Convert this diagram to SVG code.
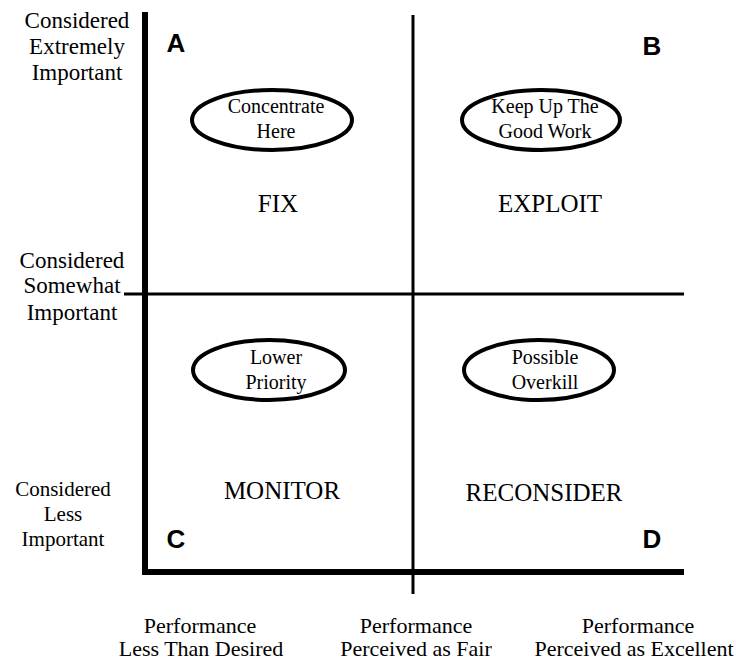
<svg xmlns="http://www.w3.org/2000/svg" width="736" height="663" viewBox="0 0 736 663">
  <style>
    .lbl { font-family: "Liberation Serif", "Times New Roman", serif; font-size: 23px; fill: #000; text-anchor: middle; }
    .lbl-s { font-family: "Liberation Serif", "Times New Roman", serif; font-size: 21px; fill: #000; text-anchor: middle; }
    .axis-lbl { font-family: "Liberation Serif", "Times New Roman", serif; font-size: 22px; fill: #000; text-anchor: middle; }
    .cap { font-family: "Liberation Serif", "Times New Roman", serif; font-size: 25px; fill: #000; text-anchor: middle; }
    .oval-text { font-family: "Liberation Serif", "Times New Roman", serif; font-size: 20px; fill: #000; text-anchor: middle; }
    .quad { font-family: "Liberation Sans", Arial, sans-serif; font-size: 26px; font-weight: bold; fill: #000; text-anchor: middle; }
    .oval { fill: #fff; stroke: #000; stroke-width: 4; }
    .axis { stroke: #000; stroke-width: 6; fill: none; }
    .divider { stroke: #000; stroke-width: 3; fill: none; }
  </style>
  <rect width="736" height="663" fill="#fff"/>

  <!-- axes and quadrant dividers -->
  <g id="connectors">
    <line class="divider" x1="413" y1="15" x2="413" y2="594"/>
    <line class="divider" x1="124" y1="294" x2="684" y2="294"/>
    <polyline class="axis" points="145,12 145,572 684,572"/>
  </g>

  <!-- importance scale -->
  <g id="importance-high">
    <text class="lbl" x="77" y="28">Considered</text>
    <text class="lbl" x="77" y="54">Extremely</text>
    <text class="lbl" x="77" y="80">Important</text>
  </g>
  <g id="importance-mid">
    <text class="lbl" x="72" y="268">Considered</text>
    <text class="lbl" x="72" y="293">Somewhat</text>
    <text class="lbl" x="72" y="320">Important</text>
  </g>
  <g id="importance-low">
    <text class="lbl-s" x="63" y="496">Considered</text>
    <text class="lbl-s" x="63" y="521">Less</text>
    <text class="lbl-s" x="63" y="546">Important</text>
  </g>

  <!-- quadrant letters -->
  <g id="quad-a"><text class="quad" x="176" y="52">A</text></g>
  <g id="quad-b"><text class="quad" x="652" y="55">B</text></g>
  <g id="quad-c"><text class="quad" x="176" y="548">C</text></g>
  <g id="quad-d"><text class="quad" x="652" y="548">D</text></g>

  <!-- quadrant ovals -->
  <g id="oval-concentrate">
    <ellipse class="oval" cx="272" cy="120" rx="80" ry="30"/>
    <text class="oval-text" x="276" y="113">Concentrate</text>
    <text class="oval-text" x="276" y="138">Here</text>
  </g>
  <g id="oval-keep-up">
    <ellipse class="oval" cx="541" cy="120" rx="79" ry="30"/>
    <text class="oval-text" x="545" y="113">Keep Up The</text>
    <text class="oval-text" x="545" y="138">Good Work</text>
  </g>
  <g id="oval-lower">
    <ellipse class="oval" cx="269" cy="370" rx="76" ry="30"/>
    <text class="oval-text" x="276" y="364">Lower</text>
    <text class="oval-text" x="276" y="389">Priority</text>
  </g>
  <g id="oval-overkill">
    <ellipse class="oval" cx="539" cy="370" rx="75" ry="30"/>
    <text class="oval-text" x="545" y="364">Possible</text>
    <text class="oval-text" x="545" y="389">Overkill</text>
  </g>

  <!-- quadrant actions -->
  <g id="action-fix"><text class="cap" x="278" y="212">FIX</text></g>
  <g id="action-exploit"><text class="cap" x="550" y="212">EXPLOIT</text></g>
  <g id="action-monitor"><text class="cap" x="282" y="499">MONITOR</text></g>
  <g id="action-reconsider"><text class="cap" x="544" y="501">RECONSIDER</text></g>

  <!-- performance scale -->
  <g id="perf-low">
    <text class="axis-lbl" x="200" y="633">Performance</text>
    <text class="axis-lbl" x="201" y="656">Less Than Desired</text>
  </g>
  <g id="perf-fair">
    <text class="axis-lbl" x="416" y="633">Performance</text>
    <text class="axis-lbl" x="416" y="656">Perceived as Fair</text>
  </g>
  <g id="perf-excellent">
    <text class="axis-lbl" x="638" y="633">Performance</text>
    <text class="axis-lbl" x="634" y="656">Perceived as Excellent</text>
  </g>
</svg>
